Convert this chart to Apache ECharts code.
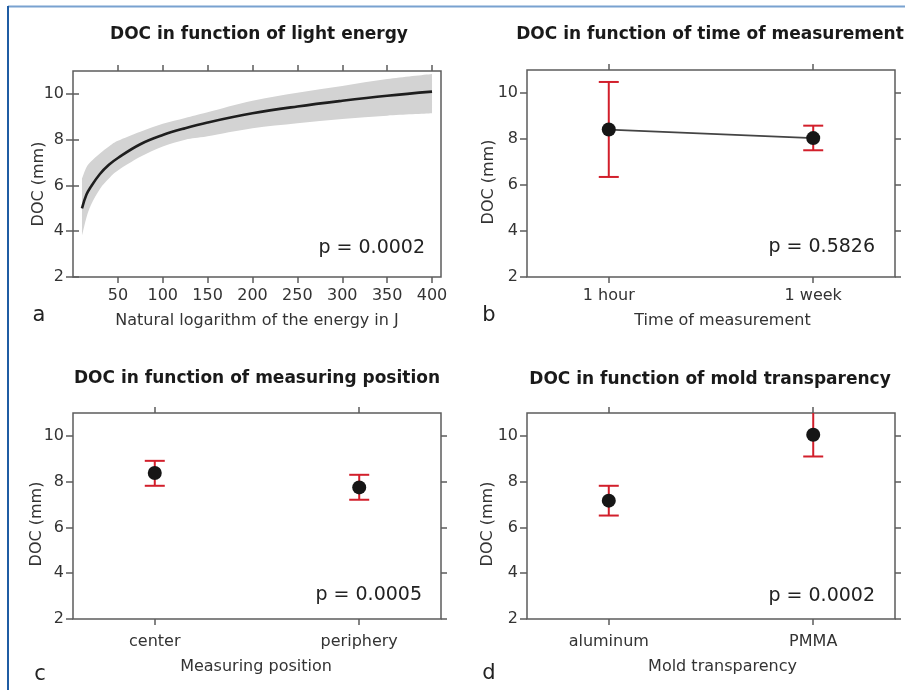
<!DOCTYPE html>
<html><head><meta charset="utf-8">
<script src="https://cdn.jsdelivr.net/npm/echarts@6/dist/echarts.min.js"></script>
<style>html,body{margin:0;padding:0;background:#fff}#c{width:905px;height:690px}</style>
</head><body><div id="c"></div>
<script>
// ---- Panel a: DOC vs light energy (fitted curve with confidence band)
const energyX   = [10, 15, 20, 30, 40, 50, 75, 100, 125, 150, 200, 250, 300, 350, 400];
const docFit    = [5.0, 5.6, 5.95, 6.5, 6.9, 7.2, 7.8, 8.2, 8.5, 8.75, 9.15, 9.45, 9.7, 9.92, 10.1];
const bandUpper = [6.3, 6.8, 7.05, 7.4, 7.7, 7.95, 8.35, 8.7, 8.95, 9.2, 9.7, 10.05, 10.35, 10.65, 10.87];
const bandLower = [3.8, 4.6, 5.15, 5.85, 6.3, 6.65, 7.25, 7.7, 8.0, 8.15, 8.5, 8.72, 8.9, 9.05, 9.15];
const energyTicks = [50, 100, 150, 200, 250, 300, 350, 400];
const docTicks = [2, 4, 6, 8, 10];

// ---- Panel b: time of measurement
const timeCats = ['1 hour', '1 week'];
const timeMean = [8.41, 8.04];
const timeLow  = [6.35, 7.51];
const timeHigh = [10.48, 8.58];

// ---- Panel c: measuring position
const posCats = ['center', 'periphery'];
const posMean = [8.38, 7.75];
const posLow  = [7.82, 7.21];
const posHigh = [8.91, 8.30];

// ---- Panel d: mold transparency
const moldCats = ['aluminum', 'PMMA'];
const moldMean = [7.17, 10.05];
const moldLow  = [6.52, 9.10];
const moldHigh = [7.82, 11.1];

const panelTitles = ['DOC in function of light energy', 'DOC in function of time of measurement',
                     'DOC in function of measuring position', 'DOC in function of mold transparency'];
const xNames = ['Natural logarithm of the energy in J', 'Time of measurement', 'Measuring position', 'Mold transparency'];
const yName = 'DOC (mm)';
const pValues = ['p = 0.0002', 'p = 0.5826', 'p = 0.0005', 'p = 0.0002'];
const panelLetters = ['a', 'b', 'c', 'd'];

const FONT = 'DejaVu Sans';
const FRAME = '#5c5c5c';
const TXT = '#333333';
const RED = '#d21f2b';

const grids = [
  {left: 73, top: 71, width: 368, height: 206},
  {left: 527, top: 70, width: 368, height: 207},
  {left: 73, top: 413, width: 368, height: 206},
  {left: 527, top: 413, width: 368, height: 206}
].map(g => Object.assign(g, {show: true, borderColor: FRAME, borderWidth: 1.5, backgroundColor: 'transparent'}));

const catSets = [null, timeCats, posCats, moldCats];
const xAxes = [], yAxes = [];
const labMargin = [11, 11, 15, 15];
const nameGaps = [36, 36, 40, 40];
const namePads = [[0,0,0,0], [0,0,0,23], [0,0,0,-2], [0,0,0,23]];
for (let i = 0; i < 4; i++) {
  const isA = i === 0;
  const xmin = isA ? 0 : 0.6, xmax = isA ? 410 : 2.4;
  const xt = isA ? energyTicks : [1, 2];
  const cats = catSets[i];
  xAxes.push({
    type: 'value', gridIndex: i, position: 'bottom', min: xmin, max: xmax,
    axisLine: {show: false}, splitLine: {show: false},
    axisTick: {show: true, length: 6, customValues: xt, lineStyle: {color: FRAME, width: 1.5}},
    axisLabel: {customValues: xt, margin: labMargin[i], fontFamily: FONT, fontSize: 16, color: TXT,
      formatter: isA ? (v => String(v)) : (v => cats[Math.round(v) - 1])},
    name: xNames[i], nameLocation: 'middle', nameGap: nameGaps[i],
    nameTextStyle: {fontFamily: FONT, fontSize: 16, color: TXT, padding: namePads[i]}
  });
  xAxes.push({
    type: 'value', gridIndex: i, position: 'top', min: xmin, max: xmax,
    axisLine: {show: false}, splitLine: {show: false}, axisLabel: {show: false},
    axisTick: {show: true, length: 6, customValues: xt, lineStyle: {color: FRAME, width: 1.5}}
  });
  yAxes.push({
    type: 'value', gridIndex: i, position: 'left', min: 2, max: 11,
    axisLine: {show: false}, splitLine: {show: false},
    axisTick: {show: true, length: 7, customValues: docTicks, lineStyle: {color: FRAME, width: 1.5}},
    axisLabel: {customValues: docTicks, margin: 9, fontFamily: FONT, fontSize: 16, color: TXT}
  });
  yAxes.push({
    type: 'value', gridIndex: i, position: 'right', min: 2, max: 11,
    axisLine: {show: false}, splitLine: {show: false}, axisLabel: {show: false},
    axisTick: {show: true, length: 6, customValues: docTicks, lineStyle: {color: FRAME, width: 1.5}}
  });
}

function errorBarSeries(panel, low, high) {
  return {
    type: 'custom', xAxisIndex: panel * 2, yAxisIndex: panel * 2, clip: true, z: 3,
    data: low.map((v, i) => [i + 1, v, high[i]]),
    encode: {x: 0, y: [1, 2]},
    renderItem: (params, api) => {
      const x = api.value(0);
      const lo = api.coord([x, api.value(1)]);
      const hi = api.coord([x, api.value(2)]);
      const hw = 10;
      const st = {stroke: RED, lineWidth: 2};
      return {type: 'group', children: [
        {type: 'line', shape: {x1: lo[0], y1: lo[1], x2: hi[0], y2: hi[1]}, style: st},
        {type: 'line', shape: {x1: lo[0] - hw, y1: lo[1], x2: lo[0] + hw, y2: lo[1]}, style: st},
        {type: 'line', shape: {x1: hi[0] - hw, y1: hi[1], x2: hi[0] + hw, y2: hi[1]}, style: st}
      ]};
    }
  };
}
function meanSeries(panel, mean) {
  return {
    type: 'scatter', xAxisIndex: panel * 2, yAxisIndex: panel * 2, z: 5,
    symbol: 'circle', symbolSize: 14, itemStyle: {color: '#161616', opacity: 1},
    data: mean.map((v, i) => [i + 1, v])
  };
}

// Catmull-Rom spline through pixel points (from api.coord), as SVG path segments
function splineSeg(pts) {
  let d = '';
  for (let i = 0; i < pts.length - 1; i++) {
    const p0 = pts[i - 1] || pts[i], p1 = pts[i], p2 = pts[i + 1], p3 = pts[i + 2] || pts[i + 1];
    const c1 = [p1[0] + (p2[0] - p0[0]) / 6, p1[1] + (p2[1] - p0[1]) / 6];
    const c2 = [p2[0] - (p3[0] - p1[0]) / 6, p2[1] - (p3[1] - p1[1]) / 6];
    d += ' C' + c1[0] + ' ' + c1[1] + ' ' + c2[0] + ' ' + c2[1] + ' ' + p2[0] + ' ' + p2[1];
  }
  return d;
}

const series = [
  {
    type: 'custom', xAxisIndex: 0, yAxisIndex: 0, z: 1, clip: true,
    data: energyX.map((x, i) => [x, bandLower[i], bandUpper[i]]),
    encode: {x: 0, y: [1, 2]},
    renderItem: (params, api) => {
      if (params.dataIndex !== 0) return null;
      const up = energyX.map((x, i) => api.coord([x, bandUpper[i]]));
      const lo = energyX.map((x, i) => api.coord([x, bandLower[i]])).reverse();
      const d = 'M' + up[0][0] + ' ' + up[0][1] + splineSeg(up) +
                ' L' + lo[0][0] + ' ' + lo[0][1] + splineSeg(lo) + ' Z';
      return {type: 'path', shape: {pathData: d}, style: {fill: '#d3d3d3', stroke: null}};
    }
  },
  {
    type: 'line', xAxisIndex: 0, yAxisIndex: 0, z: 3, smooth: 0.4, showSymbol: false,
    lineStyle: {color: '#1e1e1e', width: 2.6},
    data: energyX.map((x, i) => [x, docFit[i]])
  },
  {
    type: 'line', xAxisIndex: 2, yAxisIndex: 2, z: 2, showSymbol: false,
    lineStyle: {color: '#444444', width: 1.8},
    data: timeMean.map((v, i) => [i + 1, v])
  },
  errorBarSeries(1, timeLow, timeHigh), meanSeries(1, timeMean),
  errorBarSeries(2, posLow, posHigh), meanSeries(2, posMean),
  errorBarSeries(3, moldLow, moldHigh), meanSeries(3, moldMean)
];

const titlePos = [[259, 26], [710, 26], [257, 370], [710, 371]];
const titles = panelTitles.map((t, i) => ({
  text: t, left: titlePos[i][0], top: titlePos[i][1], textAlign: 'center', padding: 0,
  textStyle: {fontFamily: FONT, fontWeight: 'bold', fontSize: 17, color: '#1a1a1a'}
}));

const yNamePos = [[39, 184], [489, 182], [37, 524], [488, 524]];
const pPos = [[425, 248], [875, 247], [422, 595], [875, 596]];
const letterPos = [[39, 316], [489, 316], [40, 675], [489, 674]];
const graphic = [
  {type: 'line', shape: {x1: 8, y1: 6.5, x2: 905, y2: 6.5}, style: {stroke: '#79a2d0', lineWidth: 2}},
  {type: 'line', shape: {x1: 8, y1: 6, x2: 8, y2: 690}, style: {stroke: '#1f5ca3', lineWidth: 2}}
];
for (let i = 0; i < 4; i++) {
  graphic.push({type: 'text', x: yNamePos[i][0], y: yNamePos[i][1], rotation: Math.PI / 2,
    style: {text: yName, fill: TXT, font: '16px "DejaVu Sans"', align: 'center', verticalAlign: 'middle'}});
  graphic.push({type: 'text', x: pPos[i][0], y: pPos[i][1],
    style: {text: pValues[i], fill: '#222', font: '19px "DejaVu Sans"', align: 'right', verticalAlign: 'middle'}});
  graphic.push({type: 'text', x: letterPos[i][0], y: letterPos[i][1],
    style: {text: panelLetters[i], fill: '#222', font: '21px "DejaVu Sans"', align: 'center', verticalAlign: 'middle'}});
}

const chart = echarts.init(document.getElementById('c'), null, {renderer: 'canvas'});
chart.setOption({
  animation: false,
  backgroundColor: '#ffffff',
  title: titles,
  grid: grids,
  xAxis: xAxes,
  yAxis: yAxes,
  series: series,
  graphic: graphic
});
</script>
</body></html>
